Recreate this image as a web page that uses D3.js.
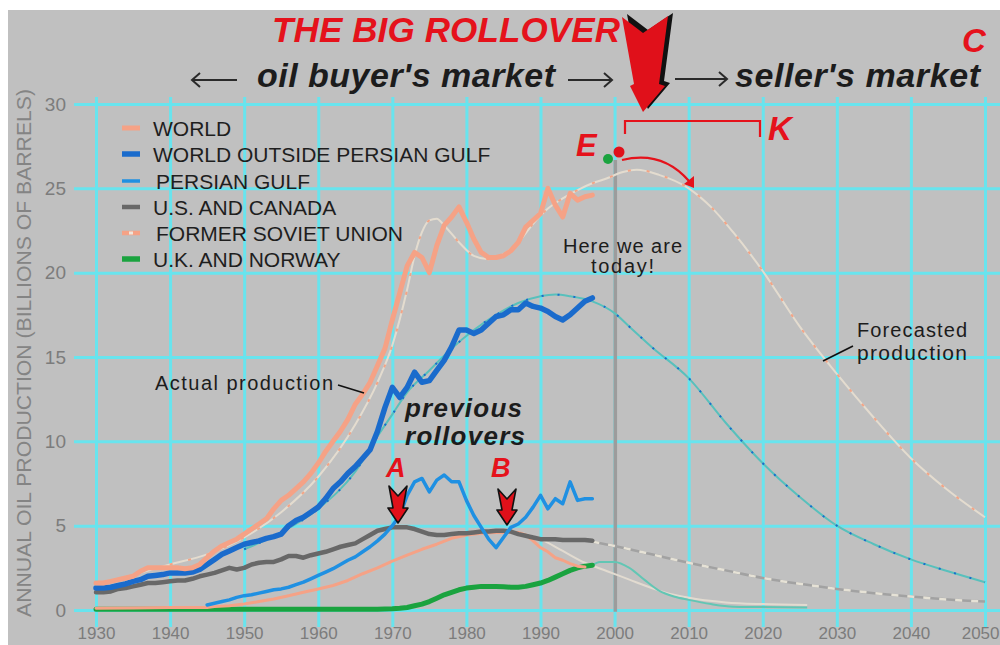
<!DOCTYPE html>
<html><head><meta charset="utf-8">
<script src="https://cdn.jsdelivr.net/npm/d3@7/dist/d3.min.js"></script>
<style>
html,body{margin:0;padding:0;background:#fff;}
svg{display:block;font-family:"Liberation Sans",Arial,sans-serif;}
</style></head>
<body>
<svg id="c" width="1000" height="645"></svg>
<script>
// ---------- DATA ----------
const xTicks = [1930,1940,1950,1960,1970,1980,1990,2000,2010,2020,2030,2040,2050];
const yTicks = [0,5,10,15,20,25,30];

const yearsActual = [1930,1931,1932,1933,1934,1935,1936,1937,1938,1939,
  1940,1941,1942,1943,1944,1945,1946,1947,1948,1949,
  1950,1951,1952,1953,1954,1955,1956,1957,1958,1959,
  1960,1961,1962,1963,1964,1965,1966,1967,1968,1969,
  1970,1971,1972,1973,1974,1975,1976,1977,1978,1979,
  1980,1981,1982,1983,1984,1985,1986,1987,1988,1989,
  1990,1991,1992,1993,1994,1995,1996,1997];

const world = [1.6,1.6,1.7,1.8,1.9,2.0,2.3,2.5,2.5,2.5,
  2.5,2.5,2.45,2.5,2.7,3.1,3.5,3.8,4.0,4.2,
  4.5,4.8,5.1,5.4,6.0,6.5,6.8,7.2,7.6,8.1,
  8.7,9.4,10.0,10.6,11.3,12.2,12.8,13.5,14.5,15.5,
  17.2,18.8,20.4,21.2,20.9,20.0,21.6,22.8,23.3,23.9,
  23.0,22.0,21.2,20.9,20.9,21.0,21.3,21.8,22.7,23.1,
  23.5,25.0,24.0,23.3,24.7,24.3,24.5,24.6];

const worldOutsideGulf = [1.3,1.3,1.35,1.45,1.55,1.7,1.8,2.0,2.05,2.1,
  2.2,2.2,2.2,2.25,2.4,2.7,3.0,3.3,3.5,3.7,
  3.9,4.0,4.1,4.25,4.35,4.5,5.0,5.3,5.5,5.8,
  6.1,6.6,7.2,7.6,8.1,8.5,9.0,9.5,10.6,12.0,
  13.2,12.6,13.2,14.1,13.5,13.6,14.2,14.8,15.6,16.6,
  16.6,16.4,16.6,17.0,17.4,17.5,17.8,17.8,18.2,18.0,
  17.9,17.7,17.4,17.2,17.5,17.9,18.3,18.5];

const usCanada = [1.05,1.05,1.1,1.25,1.3,1.4,1.5,1.6,1.6,1.65,
  1.7,1.75,1.75,1.85,2.0,2.1,2.2,2.35,2.5,2.4,
  2.5,2.7,2.8,2.85,2.85,3.0,3.2,3.2,3.1,3.25,
  3.35,3.45,3.6,3.75,3.85,3.95,4.2,4.45,4.7,4.8,
  4.9,4.9,4.9,4.8,4.65,4.5,4.45,4.45,4.5,4.55,
  4.55,4.6,4.65,4.65,4.7,4.7,4.65,4.5,4.4,4.3,
  4.2,4.2,4.2,4.15,4.15,4.15,4.15,4.1];

const ukNorway = [0.05,0.05,0.05,0.05,0.05,0.05,0.05,0.05,0.05,0.05,
  0.05,0.05,0.05,0.05,0.05,0.05,0.05,0.05,0.05,0.05,
  0.05,0.05,0.05,0.05,0.05,0.05,0.05,0.05,0.05,0.05,
  0.05,0.05,0.05,0.05,0.05,0.05,0.05,0.05,0.05,0.06,
  0.07,0.1,0.15,0.25,0.35,0.5,0.7,0.9,1.05,1.2,
  1.3,1.35,1.4,1.4,1.4,1.38,1.35,1.35,1.4,1.5,
  1.6,1.75,1.95,2.15,2.35,2.5,2.6,2.65];

const yearsGulf = [1945,1946,1947,1948,1949,1950,1951,1952,1953,1954,
  1955,1956,1957,1958,1959,1960,1961,1962,1963,1964,
  1965,1966,1967,1968,1969,1970,1971,1972,1973,1974,
  1975,1976,1977,1978,1979,1980,1981,1982,1983,1984,
  1985,1986,1987,1988,1989,1990,1991,1992,1993,1994,
  1995,1996,1997];
const persianGulf = [0.3,0.4,0.5,0.6,0.75,0.85,0.9,1.0,1.1,1.2,
  1.25,1.35,1.5,1.65,1.85,2.05,2.25,2.45,2.7,2.95,
  3.15,3.45,3.75,4.1,4.5,5.0,5.6,6.8,7.6,7.8,
  7.0,7.7,8.0,7.6,7.6,6.5,5.6,4.9,4.2,3.7,
  4.3,4.9,5.1,5.5,6.1,6.8,6.0,6.6,6.3,7.6,
  6.5,6.6,6.6];

const yearsFsu = [1930,1935,1940,1945,1946,1948,1950,1952,1954,1956,1958,1960,1962,1964,1966,1968,
  1970,1972,1974,1976,1978,1980,1982,1984,1986,1987,1988,1989,1990,1991,1992,1993,1994,1995,1996];
const formerSoviet = [0.1,0.12,0.15,0.15,0.2,0.25,0.35,0.5,0.65,0.85,1.05,1.25,1.45,1.75,2.15,2.5,
  2.9,3.25,3.6,3.9,4.25,4.45,4.55,4.6,4.6,4.6,4.45,4.1,3.7,3.45,3.1,2.95,2.75,2.6,2.55];

// fitted / forecast curves
const worldFitYears = [1935,1940,1945,1950,1955,1960,1965,1968,1970,1972,1973,1974,1975,1976,1977,1979,1981,1983,1985,1987,1989,1991,1993,1995,1997,1999,2001,2003,2006,2010,2013,2016,2020,2025,2030,2035,2040,2045,2050];
const worldFit = [2.1,2.7,3.3,4.3,5.8,7.9,11.0,13.5,15.7,19.0,21.0,22.4,23.1,23.2,22.8,21.8,21.0,20.8,21.1,21.8,22.9,23.8,24.4,24.9,25.3,25.6,25.95,26.1,25.8,25.0,23.9,22.4,20.1,16.8,14.0,11.4,9.0,7.1,5.5];

const outsideFitYears = [1950,1955,1960,1965,1968,1970,1972,1975,1978,1981,1984,1987,1990,1992,1994,1997,2000,2002,2005,2010,2015,2020,2025,2030,2035,2040,2045,2050];
const outsideFit = [3.6,4.6,6.0,8.2,10.3,11.6,12.9,14.2,15.5,16.6,17.5,18.2,18.6,18.7,18.6,18.3,17.6,16.8,15.6,13.75,11.1,8.7,6.7,5.0,3.9,3.0,2.3,1.65];

const usFitYears = [1997,2000,2005,2010,2015,2020,2025,2030,2035,2040,2045,2050];
const usFit = [4.05,3.8,3.3,2.8,2.35,1.9,1.55,1.25,1.0,0.8,0.62,0.5];

const fsuFitYears = [1984,1987,1990,1993,1996,1999,2002,2005,2008,2011,2015,2020,2026];
const fsuFit = [4.7,4.6,4.2,3.5,2.8,2.3,1.8,1.3,0.9,0.65,0.45,0.35,0.3];

const ukFitYears = [1997,1998,2000,2002,2004,2006,2008,2010,2013,2016,2026];
const ukFit = [2.65,2.85,2.85,2.5,1.8,1.15,0.8,0.6,0.35,0.2,0.15];

const legendLabels = ["WORLD","WORLD OUTSIDE PERSIAN GULF","PERSIAN GULF","U.S. AND CANADA","FORMER SOVIET UNION","U.K. AND NORWAY"];

// ---------- SETUP ----------
const svg = d3.select("#c");
const RED = "#e5121b";
const C = {world:"#f5a286", blue:"#1a6bcc", gulf:"#1f90e2", gray:"#686868", fsu:"#f5a286", green:"#1aa33f"};

svg.append("rect").attr("x",8).attr("y",10).attr("width",992).attr("height",635).attr("fill","#c0c0c0");

const x = d3.scaleLinear().domain([1930,2050]).range([96,985]);
const y = d3.scaleLinear().domain([0,30]).range([610,104]);

// horizontal grid + y labels
const gy = svg.append("g").attr("transform","translate(74,0)")
  .call(d3.axisLeft(y).tickValues(yTicks).tickSizeInner(-926).tickSizeOuter(0).tickPadding(8));
gy.select(".domain").remove();
gy.selectAll(".tick line").attr("stroke","#68e4ee").attr("stroke-width",3);
gy.selectAll(".tick text").attr("fill","#7c7c7c").style("font-size","19px").style("font-family","'Liberation Sans',Arial,sans-serif");

// vertical grid + x labels
const gx = svg.append("g").attr("transform","translate(0,627)")
  .call(d3.axisBottom(x).tickValues(xTicks).tickFormat(d3.format("d")).tickSizeInner(-530).tickSizeOuter(0).tickPadding(0));
gx.select(".domain").remove();
gx.selectAll(".tick line").attr("stroke","#68e4ee").attr("stroke-width",3);
gx.selectAll(".tick text").attr("fill","#7c7c7c").style("font-size","17px").style("font-family","'Liberation Sans',Arial,sans-serif");
gx.selectAll(".tick text").filter(d=>d===2050).attr("text-anchor","end").attr("x",14);

// y axis title
svg.append("text").attr("transform","translate(31,353) rotate(-90)")
  .attr("text-anchor","middle").attr("fill","#848484").style("font-size","20px")
  .attr("textLength",528).attr("lengthAdjust","spacingAndGlyphs")
  .text("ANNUAL OIL PRODUCTION (BILLIONS OF BARRELS)");

// today line
svg.append("line").attr("x1",x(2000.1)).attr("x2",x(2000.1)).attr("y1",160).attr("y2",y(-0.1))
  .attr("stroke","#9c9c9c").attr("stroke-width",3.5);

const zip = (ys, vs) => ys.map((yr,i)=>[yr,vs[i]]);
const lin = d3.line().x(d=>x(d[0])).y(d=>y(d[1]));
const smooth = d3.line().x(d=>x(d[0])).y(d=>y(d[1])).curve(d3.curveMonotoneX);

function fit(ys, vs, base, over, dash, w){
  svg.append("path").attr("d",smooth(zip(ys,vs))).attr("fill","none").attr("stroke",base).attr("stroke-width",w);
  if(over) svg.append("path").attr("d",smooth(zip(ys,vs))).attr("fill","none").attr("stroke",over)
      .attr("stroke-width",w).attr("stroke-dasharray",dash);
}
fit(worldFitYears, worldFit, "#e4dccf", "#f3a486", "3,16", 2);
fit(outsideFitYears, outsideFit, "#58c0bc", "#1a6bcc", "2,14", 2);
fit(usFitYears, usFit, "#a2a2a2", "#e6e2d6", "7,9", 2.5);
fit(fsuFitYears, fsuFit, "#e2dbd0", null, null, 2);
fit(ukFitYears, ukFit, "#62c6b4", null, null, 2);

function actual(ys, vs, col, w){
  svg.append("path").attr("d",lin(zip(ys,vs))).attr("fill","none").attr("stroke",col)
    .attr("stroke-width",w).attr("stroke-linejoin","round").attr("stroke-linecap","round");
}
actual(yearsActual, ukNorway, C.green, 5);
actual(yearsFsu, formerSoviet, C.fsu, 3);
actual(yearsActual, usCanada, C.gray, 4.5);
actual(yearsGulf, persianGulf, C.gulf, 3.5);
actual(yearsActual, worldOutsideGulf, C.blue, 5.5);
actual(yearsActual, world, C.world, 5);

// ---------- LEGEND ----------
const legY = [128,154,181,207,233,259];
const legX = [153,153,156,153,156,153];
const legCol = [C.world,C.blue,C.gulf,C.gray,C.fsu,C.green];
const legW = [5,5.5,3.5,4.5,4.5,5.5];
legendLabels.forEach((t,i)=>{
  svg.append("line").attr("x1",122).attr("x2",140).attr("y1",legY[i]).attr("y2",legY[i])
    .attr("stroke",legCol[i]).attr("stroke-width",legW[i]);
  if(i===4) svg.append("line").attr("x1",129).attr("x2",133).attr("y1",legY[i]).attr("y2",legY[i])
    .attr("stroke","#eee6dc").attr("stroke-width",3);
  svg.append("text").attr("x",legX[i]).attr("y",legY[i]+7.5).attr("fill","#1e1e1e")
    .style("font-size","21px").text(t);
});

// ---------- ANNOTATIONS ----------
function txt(s,x0,y0,opt){
  const t = svg.append("text").attr("x",x0).attr("y",y0).text(s)
    .attr("fill",opt.fill||"#1c1c1c").style("font-size",opt.size+"px");
  if(opt.bold) t.style("font-weight","bold");
  if(opt.italic) t.style("font-style","italic");
  if(opt.len) t.attr("textLength",opt.len).attr("lengthAdjust","spacing");
  if(opt.anchor) t.attr("text-anchor",opt.anchor);
  return t;
}
txt("THE BIG ROLLOVER",272,42,{size:35,bold:1,italic:1,fill:RED,len:348});
txt("C",962,52,{size:33,bold:1,italic:1,fill:RED});
txt("oil buyer's market",257,87,{size:34,bold:1,italic:1,len:298});
txt("seller's market",735,87,{size:34,bold:1,italic:1,len:245});

function arrow(x1,x2,yy){
  const d = x2>x1?1:-1;
  svg.append("path").attr("d",`M${x1},${yy}L${x2},${yy}M${x2-d*8},${yy-7}L${x2},${yy}L${x2-d*8},${yy+7}`)
    .attr("fill","none").attr("stroke","#2a2a2a").attr("stroke-width",2);
}
arrow(237,192,80); arrow(568,612,80); arrow(675,727,79);

// big red arrow with shadow
const bigArrow = [[622,17],[643,33],[668,16],[659,84],[665,86],[643,112],[630,86],[634,84]];
svg.append("polygon").attr("points",bigArrow.map(p=>[p[0]+5,p[1]-3].join(",")).join(" ")).attr("fill","#111");
svg.append("polygon").attr("points",bigArrow.map(p=>p.join(",")).join(" ")).attr("fill","#e0101a");

// K bracket
svg.append("path").attr("d","M625,134L625,121L760,121L760,137").attr("fill","none").attr("stroke",RED).attr("stroke-width",2.2);
txt("K",768,140,{size:33,bold:1,italic:1,fill:RED});
txt("E",576,156,{size:31,bold:1,italic:1,fill:RED});

// dots and curved arrow
svg.append("path").attr("d","M622,160Q662,150 689,181").attr("fill","none").attr("stroke",RED).attr("stroke-width",2.2);
svg.append("polygon").attr("points","684,184 694,176 694,188").attr("fill",RED);
svg.append("circle").attr("cx",608).attr("cy",159).attr("r",5).attr("fill","#1aa33f");
svg.append("circle").attr("cx",619).attr("cy",152).attr("r",5.5).attr("fill","#e0101a");

txt("Here we are",563,253,{size:20,len:119});
txt("today!",591,273,{size:20,len:63});
txt("Forecasted",857,337,{size:20,len:110});
txt("production",857,360,{size:21,len:110});
svg.append("line").attr("x1",823).attr("y1",361).attr("x2",853).attr("y2",346).attr("stroke","#111").attr("stroke-width",1.6);
txt("Actual production",155,390,{size:20,len:178});
svg.append("line").attr("x1",338).attr("y1",385).attr("x2",364).attr("y2",393).attr("stroke","#111").attr("stroke-width",1.6);

txt("previous",405,417,{size:26,bold:1,italic:1,len:117});
txt("rollovers",405,445,{size:26,bold:1,italic:1,len:120});
txt("A",386,477,{size:27,bold:1,italic:1,fill:RED});
txt("B",491,477,{size:27,bold:1,italic:1,fill:RED});

function smallArrow(cx,top,tip){
  const pts = [[cx-9,top],[cx,top+10],[cx+9,top],[cx+5,tip-15],[cx+10,tip-15],[cx,tip],[cx-10,tip-15],[cx-5,tip-15]];
  svg.append("polygon").attr("points",pts.map(p=>p.join(",")).join(" "))
    .attr("fill","#e0101a").attr("stroke","#111").attr("stroke-width",1.6).attr("stroke-linejoin","round");
}
smallArrow(398,486,523);
smallArrow(507,489,525);
</script>
</body></html>
